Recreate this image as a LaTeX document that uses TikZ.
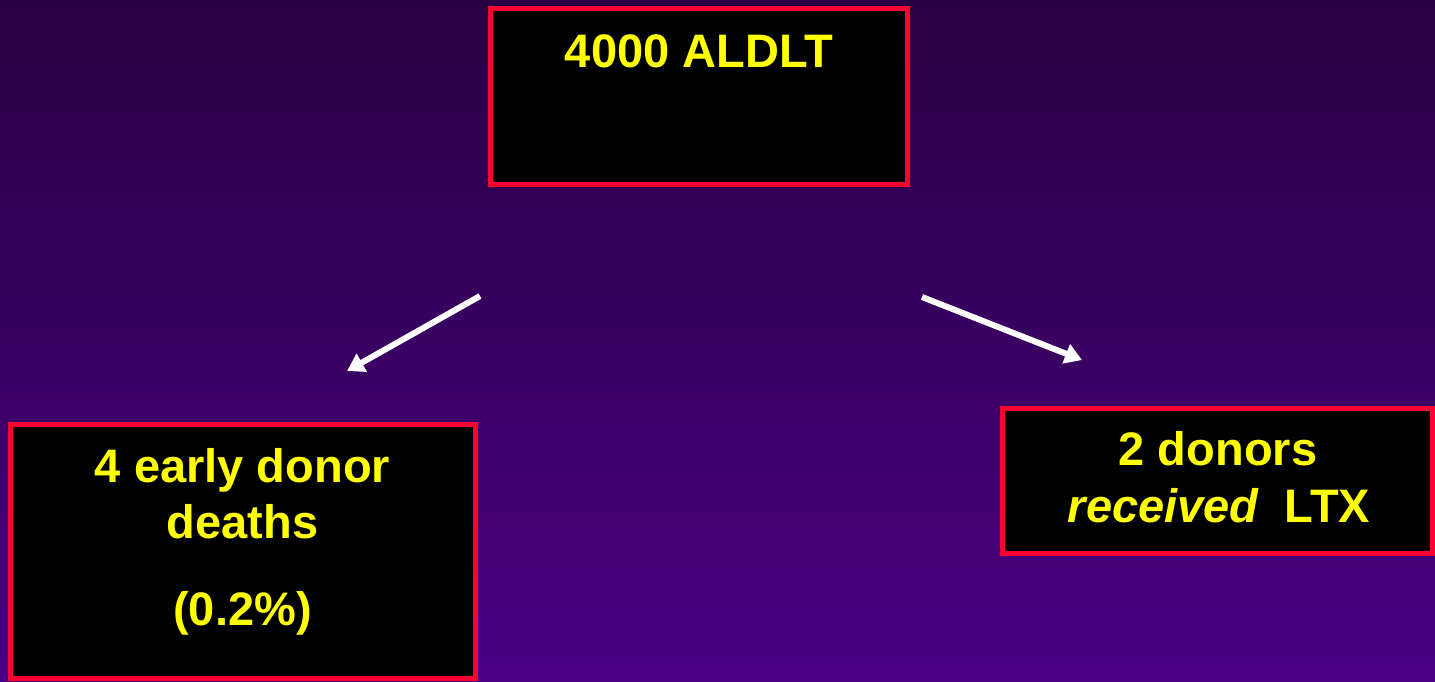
\documentclass[tikz,border=0pt]{standalone}
\usepackage{fontspec}
\setmainfont{Liberation Sans}
\usetikzlibrary{arrows.meta}
\definecolor{bgtop}{HTML}{280042}
\definecolor{bgbot}{HTML}{4A0082}
\definecolor{boxred}{HTML}{FF0033}
\definecolor{txtyellow}{HTML}{FFFF00}
\begin{document}
\begin{tikzpicture}[x=1pt,y=-1pt,
  box/.style={draw=boxred,line width=5pt,fill=black,rectangle,inner sep=0pt,outer sep=0pt},
  lbl/.style={text=txtyellow,font=\fontsize{47}{56}\selectfont\bfseries,anchor=base,inner sep=0pt},
  arr/.style={draw=white,line width=6pt,-{Triangle[length=17pt,width=20pt]}}]
\useasboundingbox (0,0) rectangle (1435,681);
\shade[top color=bgtop,bottom color=bgbot] (0,0) rectangle (1435,681);
% boxes
\node[box,minimum width=417pt,minimum height=176pt] (topbox) at (699,96.5) {};
\node[box,minimum width=465pt,minimum height=254pt] (leftbox) at (243,551.5) {};
\node[box,minimum width=430pt,minimum height=145pt] (rightbox) at (1217.5,481) {};
% texts
\node[lbl] (ttop) at (699,67) {4000 ALDLT};
\node[lbl] (tl1) at (242.5,482) {4 early donor};
\node[lbl] (tl2) at (242.5,538) {deaths};
\node[lbl] (tl3) at (242.5,625) {(0.2\%)};
\node[lbl] (tr1) at (1218,465) {2 donors};
\node[lbl] (tr2) at (1219,522) {\itshape received\upshape\ \ LTX};
% arrows
\coordinate (a1s) at (480,296);
\coordinate (a1e) at (347,371);
\coordinate (a2s) at (922,297);
\coordinate (a2e) at (1082,360);
\draw[arr] (a1s) -- (a1e);
\draw[arr] (a2s) -- (a2e);
\end{tikzpicture}
\end{document}
